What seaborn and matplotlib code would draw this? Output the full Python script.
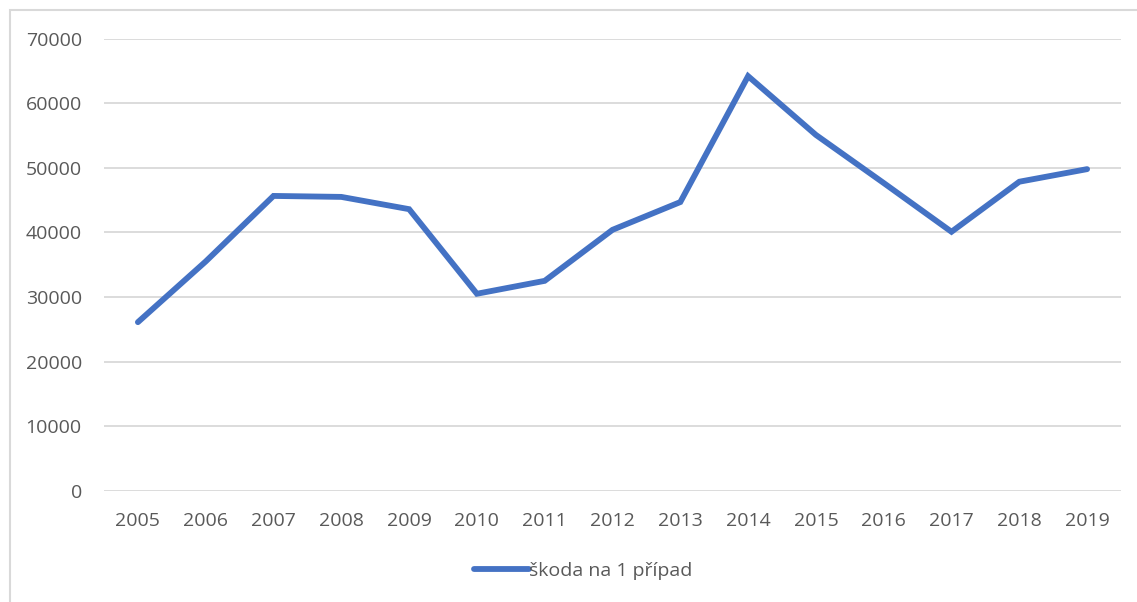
import matplotlib
matplotlib.use('Agg')
import matplotlib.pyplot as plt
import seaborn as sns
import pandas as pd
from matplotlib.patches import Rectangle

# data
years = [2005, 2006, 2007, 2008, 2009, 2010, 2011, 2012, 2013, 2014, 2015, 2016, 2017, 2018, 2019]
skoda = [26100, 35500, 45650, 45500, 43600, 30500, 32500, 40400, 44700, 64200, 55100, 47650, 40100, 47850, 49800]
series_name = 'škoda na 1 případ'

df = pd.DataFrame({'rok': years, 'hodnota': skoda})

sns.set_style('white')
plt.rcParams['font.family'] = ['Open Sans', 'DejaVu Sans']

fig = plt.figure(figsize=(11.37, 6.02), dpi=100)
ax = fig.add_axes([104 / 1137, 1 - 490.7 / 602, (1121 - 104) / 1137, (490.7 - 38.7) / 602])

sns.lineplot(data=df, x='rok', y='hodnota', ax=ax, color='#4472C4', linewidth=4.2,
             label=series_name, solid_joinstyle='miter')

ax.set_xlim(2004.5, 2019.5)
ax.set_ylim(0, 70000)
ax.set_xticks(years)
ax.set_xticklabels([str(y) for y in years])
ax.set_yticks(range(0, 70001, 10000))
ax.set_yticklabels([str(v) for v in range(0, 70001, 10000)])
ax.yaxis.grid(True, color='#D9D9D9', linewidth=1.3)
ax.set_axisbelow(True)
for s in ax.spines.values():
    s.set_visible(False)
ax.tick_params(axis='both', length=0, labelsize=14, labelcolor='#595959')
ax.tick_params(axis='y', pad=16)
ax.tick_params(axis='x', pad=15)
ax.set_xlabel('')
ax.set_ylabel('')

ax.legend(loc='center', bbox_to_anchor=(583 / 1137, 1 - 571 / 602), bbox_transform=fig.transFigure,
          frameon=False, handlelength=2.8, handletextpad=0.0, fontsize=14, labelcolor='#595959')

# outer chart frame (only left/top visible in the crop)
fig.patches.append(Rectangle((10 / 1137, -0.1), 1.2, 1.1 - 10 / 602, transform=fig.transFigure,
                             fill=False, edgecolor='#D9D9D9', linewidth=1.5, zorder=0))

fig.savefig('out.png', dpi=100)
